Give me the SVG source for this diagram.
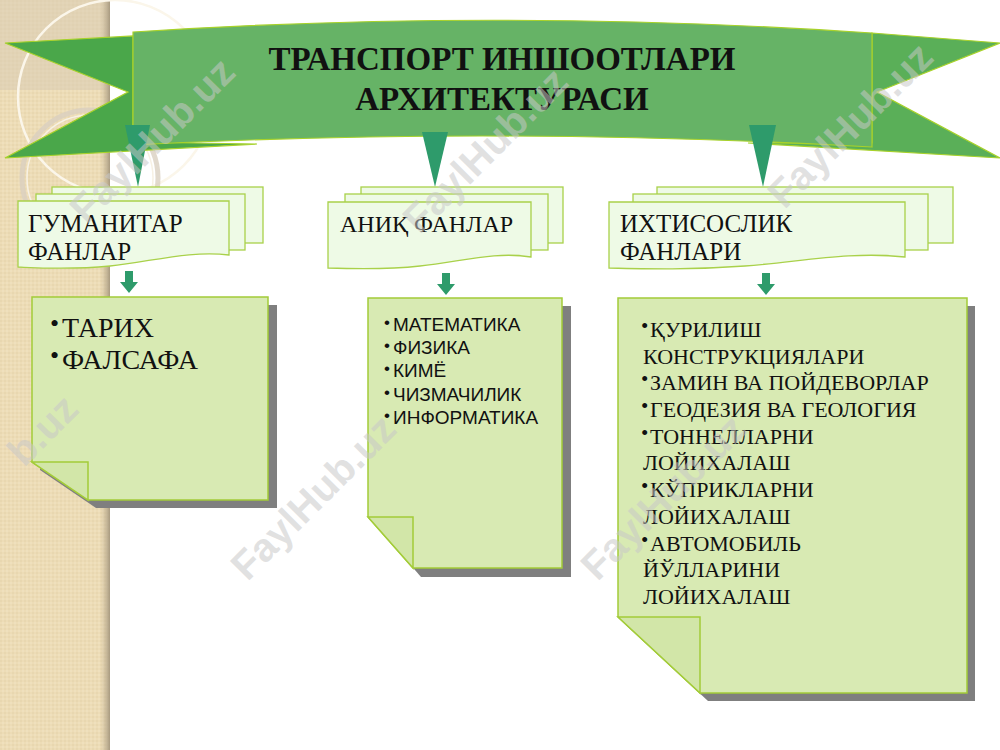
<svg xmlns="http://www.w3.org/2000/svg" width="1000" height="750" viewBox="0 0 1000 750">
<defs>
<pattern id="dots" width="4" height="4" patternUnits="userSpaceOnUse">
<rect width="4" height="4" fill="#eddcb6"/>
<circle cx="1" cy="1" r="0.8" fill="#e3d1a8"/>
<circle cx="3" cy="3" r="0.8" fill="#f3e6c6"/>
</pattern>
<linearGradient id="edge" x1="0" y1="0" x2="1" y2="0">
<stop offset="0" stop-color="#c9b99a" stop-opacity="0"/>
<stop offset="1" stop-color="#a89a80"/>
</linearGradient>
</defs>
<style>
.hdr{fill:#eefae6;stroke:#a9d14a;stroke-width:1.3}
.box{fill:#d8eab3;stroke:#a3cc38;stroke-width:1.5}
.fold{fill:#d2e6a8;stroke:#a3cc38;stroke-width:1.5}
.shadow{fill:#7f7f7f}
.arr{fill:#2e9b6b}
.serif{font-family:"Liberation Serif","Times New Roman",serif;fill:#111}
.sans{font-family:"Liberation Sans",Arial,sans-serif;fill:#111}
.wm{font-family:"Liberation Sans",Arial,sans-serif;font-weight:bold;font-size:40px;fill:#c8c8c8;fill-opacity:0.55}
</style>
<rect width="1000" height="750" fill="#ffffff"/>
<!-- left decorative strip -->
<g id="strip">
<rect x="0" y="0" width="110" height="750" fill="url(#dots)"/>
<rect x="0" y="0" width="110" height="90" fill="#d9ccb4" fill-opacity="0.55"/>
<rect x="100" y="0" width="10" height="750" fill="url(#edge)"/>
<circle cx="115" cy="97" r="97" fill="none" stroke="#fbf6ea" stroke-width="2.5"/>
<circle cx="90" cy="178" r="68" fill="none" stroke="#d9d0c0" stroke-width="5" stroke-opacity="0.8"/>
<circle cx="90" cy="178" r="63" fill="none" stroke="#f7f1e4" stroke-width="1.5"/>
</g>
<!-- banner -->
<g id="banner">
<polygon points="5,43 133,36 133,142 257,144 5,158 128,92" fill="#4aa74a" stroke="#a8d22a" stroke-width="1.2"/>
<polygon points="872,33 1000,43 877,92 1000,158 748,143 872,143" fill="#5aaf58" stroke="#a8d22a" stroke-width="1.2"/>
<path d="M133,32 Q500,8 872,33 L872,147 Q500,126 133,145 Z" fill="#66b366" stroke="#a8d22a" stroke-width="1.2"/>
<text class="serif" x="502" y="70" text-anchor="middle" font-size="33" font-weight="bold">ТРАНСПОРТ ИНШООТЛАРИ</text>
<text class="serif" x="502" y="110" text-anchor="middle" font-size="33" font-weight="bold">АРХИТЕКТУРАСИ</text>
</g>
<!-- connectors -->
<g id="connectors">
<polygon class="arr" points="125,125 150,125 138,187"/>
<polygon class="arr" points="422,132 448,132 435,187"/>
<polygon class="arr" points="749,125 776,125 763,187"/>
<polygon class="arr" points="125,271 133,271 133,282 138,282 129,293 120,282 125,282"/>
<polygon class="arr" points="442,273 450,273 450,284 455,284 446,295 437,284 442,284"/>
<polygon class="arr" points="762,273 770,273 770,284 775,284 766,295 757,284 762,284"/>
</g>
<!-- header nodes -->
<g id="hdr-gum">
<rect class="hdr" x="52" y="187" width="211" height="56"/>
<rect class="hdr" x="36" y="194" width="209" height="56"/>
<path class="hdr" d="M18,201 H229 V255 C190,250 150,262 110,266 C70,270 40,268 18,267 Z"/>
<text class="serif" font-size="25"><tspan x="28" y="232">ГУМАНИТАР</tspan><tspan x="28" y="260">ФАНЛАР</tspan></text>
</g>
<g id="hdr-anik">
<rect class="hdr" x="361" y="187" width="202" height="56"/>
<rect class="hdr" x="345" y="194" width="203" height="56"/>
<path class="hdr" d="M328,202 H531 V257 C495,251 460,262 420,266 C385,270 355,269 328,268 Z"/>
<text class="serif" font-size="24" x="340" y="232">АНИҚ ФАНЛАР</text>
</g>
<g id="hdr-ixt">
<rect class="hdr" x="657" y="187" width="296" height="56"/>
<rect class="hdr" x="633" y="194" width="295" height="56"/>
<path class="hdr" d="M609,202 H905 V257 C850,251 800,262 745,266 C690,270 650,269 609,268 Z"/>
<text class="serif" font-size="25"><tspan x="620" y="232">ИХТИСОСЛИК</tspan><tspan x="620" y="260">ФАНЛАРИ</tspan></text>
</g>
<!-- content nodes -->
<g id="box-gum">
<path class="shadow" d="M40,305 H277 V508 H96 L40,470 Z"/>
<path class="box" d="M32,297 H268 V500 H88 L32,462 Z"/>
<path class="fold" d="M32,462 H88 V500 Z"/>
<text class="serif" font-size="28">
<tspan x="50" y="332" font-size="26">•</tspan><tspan x="62" y="337">ТАРИХ</tspan>
<tspan x="50" y="364" font-size="26">•</tspan><tspan x="62" y="369">ФАЛСАФА</tspan>
</text>
</g>
<g id="box-anik">
<path class="shadow" d="M376,306 H571 V577 H421 L376,525 Z"/>
<path class="box" d="M368,298 H562 V568 H413 L368,517 Z"/>
<path class="fold" d="M368,517 H413 V568 Z"/>
<text class="sans" font-size="19">
<tspan x="384" y="328" font-size="17">•</tspan><tspan x="393" y="331">МАТЕМАТИКА</tspan>
<tspan x="384" y="351" font-size="17">•</tspan><tspan x="393" y="354">ФИЗИКА</tspan>
<tspan x="384" y="374" font-size="17">•</tspan><tspan x="393" y="377">КИМЁ</tspan>
<tspan x="384" y="398" font-size="17">•</tspan><tspan x="393" y="401">ЧИЗМАЧИЛИК</tspan>
<tspan x="384" y="421" font-size="17">•</tspan><tspan x="393" y="424">ИНФОРМАТИКА</tspan>
</text>
</g>
<g id="box-ixt">
<path class="shadow" d="M626,306 H975 V701 H708 L626,625 Z"/>
<path class="box" d="M618,298 H967 V693 H700 L618,617 Z"/>
<path class="fold" d="M618,617 H700 V693 Z"/>
<text class="serif" font-size="22">
<tspan x="641" y="333" font-size="21">•</tspan><tspan x="650" y="337">ҚУРИЛИШ</tspan>
<tspan x="643" y="364">КОНСТРУКЦИЯЛАРИ</tspan>
<tspan x="641" y="386" font-size="21">•</tspan><tspan x="650" y="390">ЗАМИН ВА ПОЙДЕВОРЛАР</tspan>
<tspan x="641" y="413" font-size="21">•</tspan><tspan x="650" y="417">ГЕОДЕЗИЯ ВА ГЕОЛОГИЯ</tspan>
<tspan x="641" y="440" font-size="21">•</tspan><tspan x="650" y="444">ТОННЕЛЛАРНИ</tspan>
<tspan x="643" y="470">ЛОЙИХАЛАШ</tspan>
<tspan x="641" y="493" font-size="21">•</tspan><tspan x="650" y="497">КЎПРИКЛАРНИ</tspan>
<tspan x="643" y="524">ЛОЙИХАЛАШ</tspan>
<tspan x="641" y="547" font-size="21">•</tspan><tspan x="650" y="551">АВТОМОБИЛЬ</tspan>
<tspan x="643" y="577">ЙЎЛЛАРИНИ</tspan>
<tspan x="643" y="604">ЛОЙИХАЛАШ</tspan>
</text>
</g>
<!-- watermarks -->
<g id="watermarks">
<text class="wm" text-anchor="middle" transform="translate(152,140) rotate(-45)" dy="14">FaylHub.uz</text>
<text class="wm" text-anchor="middle" transform="translate(485,150) rotate(-45)" dy="14">FaylHub.uz</text>
<text class="wm" text-anchor="middle" transform="translate(850,125) rotate(-45)" dy="14">FaylHub.uz</text>
<text class="wm" transform="translate(24,468) rotate(-45)">b.uz</text>
<text class="wm" text-anchor="middle" transform="translate(313,497) rotate(-45)" dy="14">FaylHub.uz</text>
<text class="wm" text-anchor="middle" transform="translate(663,497) rotate(-45)" dy="14">FaylHub.uz</text>
</g>
</svg>
